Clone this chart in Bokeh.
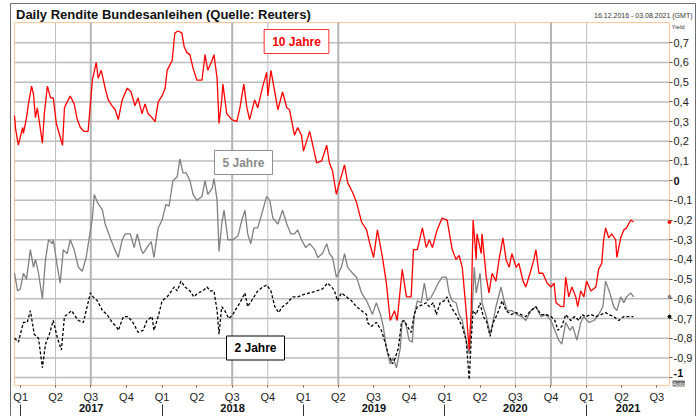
import pandas as pd
from bokeh.plotting import figure
from bokeh.models import Range1d, LinearAxis, FixedTicker, Label
from bokeh.embed import file_html
from bokeh.resources import INLINE

FONT = "Liberation Sans"
START = "2016-12-16"
END = "2021-08-03"

# ---------------- data (day offset from START, yield in %) ----------------
red_day = [0, 3, 10, 21, 23, 31, 36, 44, 49, 54,
           59, 72, 77, 85, 93, 100, 108, 124, 129, 136,
           144, 154, 162, 170, 180, 190, 196, 201, 211, 216,
           224, 234, 242, 252, 260, 268, 278, 291, 301, 311,
           319, 329, 337, 345, 355, 363, 371, 381, 389, 394,
           407, 414, 422, 432, 438, 445, 453, 461, 471, 484,
           492, 499, 510, 515, 523, 528, 535, 538, 548, 561,
           574, 582, 592, 600, 607, 620, 628, 641, 651, 654,
           662, 672, 680, 692, 703, 710, 723, 731, 741, 746,
           762, 770, 780, 793, 806, 813, 821, 831, 839, 852,
           860, 873, 883, 896, 909, 916, 927, 937, 950, 960,
           970, 981, 988, 1001, 1012, 1024, 1030, 1040, 1053, 1063,
           1071, 1079, 1091, 1104, 1117, 1130, 1140, 1148, 1156, 1166,
           1174, 1179, 1184, 1192, 1194, 1205, 1207, 1218, 1225, 1233,
           1243, 1251, 1261, 1269, 1277, 1284, 1295, 1302, 1313, 1320,
           1331, 1341, 1346, 1354, 1364, 1375, 1385, 1393, 1398, 1411,
           1418, 1423, 1431, 1439, 1449, 1454, 1462, 1470, 1477, 1488,
           1501, 1508, 1516, 1521, 1526, 1534, 1542, 1552, 1555, 1565,
           1573, 1580, 1591, 1598]
red_val = [0.33, 0.26, 0.18, 0.27, 0.24, 0.32, 0.39, 0.48, 0.44, 0.32,
           0.37, 0.19, 0.34, 0.48, 0.42, 0.42, 0.29, 0.18, 0.37, 0.40,
           0.43, 0.39, 0.31, 0.27, 0.25, 0.25, 0.39, 0.51, 0.60, 0.52,
           0.56, 0.47, 0.41, 0.38, 0.36, 0.31, 0.41, 0.47, 0.45, 0.38,
           0.42, 0.34, 0.39, 0.34, 0.32, 0.30, 0.40, 0.43, 0.47, 0.56,
           0.61, 0.75, 0.76, 0.75, 0.68, 0.65, 0.64, 0.57, 0.51, 0.51,
           0.64, 0.56, 0.61, 0.64, 0.52, 0.29, 0.41, 0.49, 0.34, 0.31,
           0.30, 0.37, 0.49, 0.37, 0.31, 0.41, 0.37, 0.48, 0.55, 0.43,
           0.56, 0.45, 0.36, 0.45, 0.37, 0.36, 0.23, 0.27, 0.23, 0.15,
           0.25, 0.18, 0.09, 0.10, 0.18, 0.09, 0.05, -0.07, -0.01, 0.08,
           -0.01, -0.06, -0.11, -0.21, -0.25, -0.31, -0.39, -0.25, -0.39, -0.52,
           -0.71, -0.66, -0.71, -0.45, -0.59, -0.59, -0.35, -0.35, -0.24, -0.34,
           -0.30, -0.34, -0.25, -0.19, -0.20, -0.35, -0.40, -0.38, -0.44, -0.66,
           -0.86, -0.66, -0.20, -0.40, -0.27, -0.37, -0.27, -0.49, -0.57, -0.47,
           -0.51, -0.40, -0.29, -0.40, -0.44, -0.37, -0.44, -0.42, -0.51, -0.54,
           -0.47, -0.40, -0.35, -0.47, -0.47, -0.52, -0.54, -0.52, -0.62, -0.64,
           -0.64, -0.49, -0.59, -0.54, -0.59, -0.64, -0.56, -0.59, -0.51, -0.56,
           -0.54, -0.45, -0.42, -0.30, -0.24, -0.29, -0.27, -0.30, -0.39, -0.29,
           -0.25, -0.24, -0.20, -0.21]

gray_day = [0, 8, 15, 23, 31, 41, 49, 54, 62, 72,
            80, 88, 98, 100, 111, 118, 126, 136, 144, 154,
            165, 175, 185, 193, 201, 206, 214, 227, 234, 247,
            257, 268, 278, 286, 299, 309, 317, 327, 332, 342,
            353, 360, 371, 381, 391, 399, 409, 420, 427, 435,
            443, 453, 461, 471, 484, 492, 499, 510, 515, 523,
            528, 535, 541, 551, 564, 577, 587, 595, 602, 610,
            618, 628, 641, 651, 659, 667, 680, 692, 703, 713,
            723, 731, 741, 752, 762, 775, 783, 795, 806, 813,
            821, 831, 844, 852, 860, 873, 883, 896, 909, 916,
            924, 934, 945, 952, 960, 970, 978, 986, 996, 1001,
            1009, 1019, 1027, 1032, 1040, 1050, 1058, 1066, 1076, 1084,
            1094, 1104, 1115, 1122, 1130, 1140, 1148, 1156, 1166, 1174,
            1181, 1187, 1192, 1202, 1207, 1218, 1228, 1236, 1243, 1256,
            1264, 1272, 1284, 1297, 1310, 1320, 1333, 1346, 1359, 1372,
            1385, 1395, 1405, 1413, 1423, 1434, 1441, 1452, 1462, 1470,
            1483, 1496, 1508, 1519, 1526, 1537, 1547, 1555, 1565, 1573,
            1580, 1591, 1598]
gray_val = [-0.47, -0.56, -0.55, -0.47, -0.50, -0.35, -0.44, -0.40, -0.47, -0.60,
            -0.40, -0.30, -0.32, -0.30, -0.44, -0.52, -0.35, -0.37, -0.30, -0.35,
            -0.44, -0.46, -0.39, -0.29, -0.19, -0.07, -0.11, -0.15, -0.22, -0.29,
            -0.34, -0.39, -0.30, -0.27, -0.27, -0.34, -0.27, -0.35, -0.37, -0.34,
            -0.31, -0.39, -0.24, -0.20, -0.12, -0.13, 0.00, 0.02, 0.11, 0.04,
            0.04, 0.00, -0.07, -0.10, -0.08, 0.00, -0.07, -0.04, 0.01, -0.10,
            -0.36, -0.22, -0.15, -0.30, -0.30, -0.28, -0.20, -0.15, -0.27, -0.32,
            -0.24, -0.24, -0.15, -0.08, -0.10, -0.19, -0.22, -0.15, -0.22, -0.27,
            -0.27, -0.25, -0.30, -0.34, -0.32, -0.35, -0.39, -0.37, -0.32, -0.37,
            -0.39, -0.49, -0.44, -0.37, -0.44, -0.47, -0.49, -0.57, -0.61, -0.64,
            -0.68, -0.62, -0.68, -0.74, -0.85, -0.93, -0.90, -0.95, -0.85, -0.71,
            -0.72, -0.81, -0.82, -0.68, -0.61, -0.62, -0.52, -0.61, -0.59, -0.56,
            -0.52, -0.49, -0.49, -0.57, -0.61, -0.62, -0.68, -0.71, -0.81, -0.88,
            -0.68, -0.44, -0.57, -0.47, -0.62, -0.69, -0.78, -0.71, -0.64, -0.54,
            -0.61, -0.66, -0.66, -0.68, -0.69, -0.71, -0.66, -0.64, -0.69, -0.68,
            -0.71, -0.76, -0.81, -0.83, -0.72, -0.76, -0.74, -0.81, -0.72, -0.69,
            -0.72, -0.71, -0.68, -0.64, -0.51, -0.57, -0.64, -0.66, -0.59, -0.62,
            -0.59, -0.57, -0.59]

black_day = [0, 10, 23, 33, 41, 51, 62, 72, 80, 90,
             100, 111, 121, 129, 136, 147, 154, 165, 178, 185,
             196, 203, 214, 227, 239, 252, 263, 268, 281, 293,
             306, 319, 332, 342, 355, 360, 371, 381, 394, 402,
             412, 420, 430, 440, 453, 463, 474, 486, 497, 505,
             515, 523, 528, 535, 543, 553, 564, 569, 582, 595,
             602, 615, 628, 641, 651, 662, 672, 682, 692, 705,
             718, 731, 744, 762, 780, 795, 808, 819, 826, 834,
             844, 857, 870, 883, 896, 909, 911, 921, 934, 947,
             955, 965, 976, 983, 991, 999, 1006, 1014, 1024, 1032,
             1040, 1053, 1063, 1071, 1081, 1089, 1099, 1109, 1117, 1122,
             1130, 1140, 1148, 1156, 1166, 1174, 1179, 1184, 1192, 1202,
             1210, 1218, 1228, 1236, 1246, 1259, 1269, 1282, 1295, 1308,
             1320, 1333, 1346, 1359, 1372, 1385, 1395, 1403, 1413, 1423,
             1436, 1446, 1457, 1465, 1475, 1488, 1501, 1514, 1526, 1534,
             1547, 1560, 1573, 1586, 1598]
black_val = [-0.80, -0.82, -0.72, -0.72, -0.66, -0.78, -0.80, -0.95, -0.83, -0.78,
             -0.71, -0.80, -0.86, -0.69, -0.68, -0.66, -0.68, -0.71, -0.72, -0.66,
             -0.57, -0.59, -0.61, -0.66, -0.68, -0.72, -0.74, -0.76, -0.69, -0.69,
             -0.72, -0.77, -0.76, -0.71, -0.69, -0.76, -0.69, -0.61, -0.59, -0.57,
             -0.54, -0.56, -0.51, -0.54, -0.56, -0.59, -0.57, -0.56, -0.54, -0.56,
             -0.56, -0.66, -0.78, -0.64, -0.66, -0.70, -0.68, -0.66, -0.62, -0.57,
             -0.64, -0.60, -0.56, -0.54, -0.53, -0.56, -0.64, -0.67, -0.64, -0.62,
             -0.59, -0.59, -0.58, -0.57, -0.56, -0.55, -0.52, -0.54, -0.56, -0.61,
             -0.57, -0.59, -0.61, -0.64, -0.66, -0.68, -0.72, -0.74, -0.72, -0.76,
             -0.81, -0.88, -0.93, -0.90, -0.85, -0.72, -0.71, -0.74, -0.77, -0.68,
             -0.64, -0.63, -0.62, -0.64, -0.62, -0.68, -0.62, -0.61, -0.59, -0.62,
             -0.65, -0.68, -0.71, -0.74, -0.81, -1.01, -0.81, -0.66, -0.68, -0.62,
             -0.69, -0.71, -0.79, -0.72, -0.68, -0.61, -0.66, -0.68, -0.67, -0.68,
             -0.69, -0.66, -0.64, -0.68, -0.68, -0.69, -0.71, -0.76, -0.74, -0.68,
             -0.71, -0.69, -0.71, -0.68, -0.69, -0.68, -0.69, -0.68, -0.67, -0.68,
             -0.69, -0.71, -0.69, -0.69, -0.69]

SERIES_NAMES = ["10 Jahre", "5 Jahre", "2 Jahre"]

Y_TICKS = [0.7, 0.6, 0.5, 0.4, 0.3, 0.2, 0.1, 0.0, -0.1, -0.2,
           -0.3, -0.4, -0.5, -0.6, -0.7, -0.8, -0.9, -1.0]
Y_TICK_LABELS = ["0,7", "0,6", "0,5", "0,4", "0,3", "0,2", "0,1", "0", "-0,1", "-0,2",
                 "-0,3", "-0,4", "-0,5", "-0,6", "-0,7", "-0,8", "-0,9", "-1"]
Y_BOLD_LABELS = ["0", "-1"]
Y_MIN, Y_MAX = -1.04, 0.803

QUARTER_DATES = ["2017-01-01", "2017-04-01", "2017-07-01", "2017-10-01",
                 "2018-01-01", "2018-04-01", "2018-07-01", "2018-10-01",
                 "2019-01-01", "2019-04-01", "2019-07-01", "2019-10-01",
                 "2020-01-01", "2020-04-01", "2020-07-01", "2020-10-01",
                 "2021-01-01", "2021-04-01", "2021-07-01"]
QUARTER_LABELS = ["Q1", "Q2", "Q3", "Q4", "Q1", "Q2", "Q3", "Q4", "Q1", "Q2",
                  "Q3", "Q4", "Q1", "Q2", "Q3", "Q4", "Q1", "Q2", "Q3"]
YEAR_STARTS = ["2017-01-01", "2018-01-01", "2019-01-01", "2020-01-01", "2021-01-01"]
YEAR_LABEL_DATES = ["2017-07-02", "2018-07-02", "2019-07-02", "2020-07-01", "2021-04-18"]
YEAR_LABELS = ["2017", "2018", "2019", "2020", "2021"]

VGRID_THIN = ["2017-04-01", "2018-10-01", "2020-07-01", "2021-01-01"]
VGRID_THICK = ["2017-07-01", "2018-07-01", "2019-04-01", "2020-10-01"]

TITLE = "Daily Rendite Bundesanleihen (Quelle: Reuters)"
RANGE_TEXT = "16.12.2016 - 03.08.2021 (GMT)"


def ms(d):
    return pd.Timestamp(d).value / 1e6


def days_to_ms(days):
    s = pd.Timestamp(START)
    return [(s + pd.Timedelta(days=int(d))).value / 1e6 for d in days]


# canvas geometry: the plot area (orange box) inside the 699x416 canvas
W, H = 699, 416
PA_L, PA_R, PA_T, PA_B = 14, 669, 22, 385
DX = (ms(END) - ms(START)) / (PA_R - PA_L)
DY = (Y_MAX - Y_MIN) / (PA_B - PA_T)


def xd(px):  # canvas pixel -> data x
    return ms(START) + (px - PA_L) * DX


def yd(py):  # canvas pixel -> data y
    return Y_MAX - (py - PA_T) * DY


def slabel(px, py, text, **kw):
    return Label(x=px, y=H - py, x_units="screen", y_units="screen",
                 text=text, text_font=FONT, **kw)


p = figure(width=W, height=H, output_backend="svg", toolbar_location=None,
           x_axis_type=None, y_axis_type=None, min_border=0,
           x_range=Range1d(xd(0), xd(W)), y_range=Range1d(yd(H), yd(0)))
p.outline_line_color = None
p.background_fill_color = "white"
p.border_fill_color = "white"

# outer chart frame and plot area
p.quad(left=xd(10), right=xd(695), top=yd(3), bottom=yd(440),
       fill_color=None, line_color="#6e6e6e", line_width=1)
p.quad(left=ms(START), right=ms(END), top=Y_MAX, bottom=Y_MIN,
       fill_color="white", line_color="#ffc896", line_width=1)

# grid lines (inside the plot area only)
p.segment(x0=[ms(START)] * len(Y_TICKS), x1=[ms(END)] * len(Y_TICKS), y0=Y_TICKS, y1=Y_TICKS,
          line_color="#bdbdbd", line_width=1.5)
p.segment(x0=[ms(d) for d in VGRID_THIN], x1=[ms(d) for d in VGRID_THIN],
          y0=[Y_MIN] * len(VGRID_THIN), y1=[Y_MAX] * len(VGRID_THIN),
          line_color="#bdbdbd", line_width=1)
p.segment(x0=[ms(d) for d in VGRID_THICK], x1=[ms(d) for d in VGRID_THICK],
          y0=[Y_MIN] * len(VGRID_THICK), y1=[Y_MAX] * len(VGRID_THICK),
          line_color="#b4b4b4", line_width=2)

# series
p.line(days_to_ms(gray_day), gray_val, line_color="#808080", line_width=1.3)
p.line(days_to_ms(black_day), black_val, line_color="black", line_width=1.3, line_dash="3 2")
p.line(days_to_ms(red_day), red_val, line_color="#ff0000", line_width=1.3)

# last-value markers on the right edge
p.scatter(x=[ms(END)] * 3, y=[red_val[-1], gray_val[-1], black_val[-1]],
          color=["#ff0000", "#808080", "black"], size=3, marker="circle")

# right value axis, fixed at the right edge of the plot area
yax = LinearAxis(fixed_location=ms(END), ticker=FixedTicker(ticks=Y_TICKS),
                 major_label_overrides={t: ("" if l in Y_BOLD_LABELS else l)
                                        for t, l in zip(Y_TICKS, Y_TICK_LABELS)},
                 axis_line_color=None, major_tick_in=0, major_tick_out=3,
                 major_tick_line_color="#555555", minor_tick_out=0, minor_tick_in=0,
                 major_label_standoff=1, major_label_text_font=FONT,
                 major_label_text_font_size="11px", major_label_text_color="#222222")
p.add_layout(yax, "right")

# quarter axis at the bottom edge of the plot area
qax = LinearAxis(fixed_location=Y_MIN, ticker=FixedTicker(ticks=[ms(d) for d in QUARTER_DATES]),
                 major_label_overrides={ms(d): l for d, l in zip(QUARTER_DATES, QUARTER_LABELS)},
                 axis_line_color=None, major_tick_in=0, major_tick_out=2,
                 major_tick_line_color="#555555", minor_tick_out=0, minor_tick_in=0,
                 major_label_standoff=3, major_label_text_font=FONT,
                 major_label_text_font_size="11px", major_label_text_color="#222222")
p.add_layout(qax, "below")

# year separators
sep = LinearAxis(fixed_location=yd(404), ticker=FixedTicker(ticks=[ms(d) for d in YEAR_STARTS]),
                 axis_line_color=None, major_tick_in=0, major_tick_out=13,
                 major_tick_line_color="#333333", minor_tick_out=0, minor_tick_in=0,
                 major_label_text_alpha=0, major_label_text_font_size="1px")
p.add_layout(sep, "below")

# year labels
yrax = LinearAxis(fixed_location=yd(403.5), ticker=FixedTicker(ticks=[ms(d) for d in YEAR_LABEL_DATES]),
                  major_label_overrides={ms(d): l for d, l in zip(YEAR_LABEL_DATES, YEAR_LABELS)},
                  axis_line_color=None, major_tick_in=0, major_tick_out=0,
                  minor_tick_in=0, minor_tick_out=0, major_label_standoff=0,
                  major_label_text_font=FONT, major_label_text_font_style="bold",
                  major_label_text_font_size="11px", major_label_text_color="#111111")
p.add_layout(yrax, "below")

# texts
p.add_layout(slabel(15.5, 14, TITLE, text_font_size="13px", text_font_style="bold",
                    text_baseline="middle", text_color="#111111"))
p.add_layout(slabel(692, 15, RANGE_TEXT, text_font_size="7px", text_align="right",
                    text_baseline="middle", text_color="#333333"))
p.add_layout(slabel(671, 26, "Yield", text_font_size="6px", text_baseline="middle",
                    text_color="#333333"))
p.add_layout(Label(x=ms(END), y=0.0, x_offset=4, text=Y_BOLD_LABELS[0],
                   text_font=FONT, text_font_size="11px", text_font_style="bold",
                   text_baseline="middle", text_color="#111111"))
p.add_layout(slabel(673, 372, Y_BOLD_LABELS[1], text_font_size="11px", text_font_style="bold",
                    text_baseline="middle", text_color="#111111"))
p.add_layout(slabel(672, 383, "Auto", text_font_size="6px", text_baseline="middle",
                    text_color="white", background_fill_color="#707070"))

box_specs = [(SERIES_NAMES[0], 296, 41, "#ff0000", "#ff3030"),
             (SERIES_NAMES[1], 243, 162, "#8c8c8c", "#909090"),
             (SERIES_NAMES[2], 255, 347.5, "#000000", "#000000")]
for name, cx, cy, tc, bc in box_specs:
    p.add_layout(slabel(cx, cy, name, text_font_size="12px", text_font_style="bold",
                        text_align="center", text_baseline="middle", text_color=tc,
                        background_fill_color="white", border_line_color=bc,
                        border_line_width=1, padding=(8, 5)))

open("out.html", "w").write(file_html(p, INLINE))
